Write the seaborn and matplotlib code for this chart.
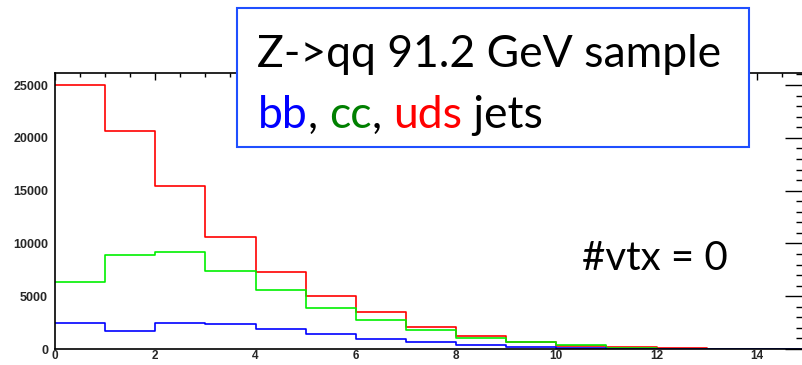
import numpy as np
import pandas as pd
import matplotlib
matplotlib.use("Agg")
import matplotlib.pyplot as plt
from matplotlib.patches import Rectangle
from matplotlib.ticker import MultipleLocator
import seaborn as sns

# Number of reconstructed vertices per jet: bin edges and per-bin counts
bin_edges = list(range(0, 16))
uds_counts = [25000, 20600, 15480, 10650, 7250, 5020, 3460, 2080, 1200, 700, 300, 150, 70, 30, 15]
cc_counts = [6300, 8880, 9230, 7430, 5550, 3920, 2790, 1820, 1000, 620, 340, 110, 30, 10, 5]
bb_counts = [2490, 1750, 2500, 2340, 1880, 1390, 960, 630, 380, 230, 130, 40, 15, 5, 2]

flavours = ["bb", "cc", "uds"]
line_colors = {"bb": "#0000ff", "cc": "#00f000", "uds": "#ff0000"}
text_colors = {"bb": "#0000ff", "cc": "#008000", "uds": "#ff0000"}

centers = [(a + b) / 2 for a, b in zip(bin_edges[:-1], bin_edges[1:])]
df = pd.concat([
    pd.DataFrame({"nvtx": centers, "count": counts, "flavour": name})
    for name, counts in zip(flavours, [bb_counts, cc_counts, uds_counts])
], ignore_index=True)

sns.set_style("white")
plt.rcParams["font.family"] = ["Liberation Sans", "DejaVu Sans"]

W, H = 803, 365
fig = plt.figure(figsize=(W / 100, H / 100), dpi=100)
ax_left, ax_right, ax_bottom, ax_top = 55, 807, 16, 292
ax = fig.add_axes([ax_left / W, ax_bottom / H, (ax_right - ax_left) / W, (ax_top - ax_bottom) / H])

sns.histplot(data=df, x="nvtx", weights="count", hue="flavour", hue_order=flavours,
             palette=line_colors, bins=bin_edges, element="step", fill=False,
             linewidth=1.2, legend=False, ax=ax)

ax.set_xlim(0, 15)
ax.set_ylim(0, 26140)
ax.set_xlabel("")
ax.set_ylabel("")
ax.xaxis.set_major_locator(MultipleLocator(2))
ax.xaxis.set_minor_locator(MultipleLocator(0.5))
ax.yaxis.set_major_locator(MultipleLocator(5000))
ax.yaxis.set_minor_locator(MultipleLocator(1000))
for s in ax.spines.values():
    s.set_visible(True)
    s.set_color("black")
    s.set_linewidth(1.2)
ax.tick_params(axis="both", which="both", direction="in", top=True, right=True,
               color="black", width=1.0)
ax.tick_params(axis="y", which="major", length=16, pad=5, labelsize=9)
ax.tick_params(axis="y", which="minor", length=8)
ax.tick_params(axis="x", which="major", length=5, pad=1, labelsize=8.5)
ax.tick_params(axis="x", which="minor", length=3)
for lab in ax.get_xticklabels() + ax.get_yticklabels():
    lab.set_fontweight("bold")

# Title box drawn over the top of the frame
box_font = ["Lato", "DejaVu Sans"]
fig.add_artist(Rectangle((237 / W, 1 - 147 / H), (749 - 237) / W, (147 - 8) / H,
                         transform=fig.transFigure, facecolor="white",
                         edgecolor="#1f4fff", linewidth=1.5, zorder=5))
fig.text(257 / W, 1 - 67 / H, "Z->qq 91.2 GeV sample", fontsize=32,
         family=box_font, color="black", zorder=6)

# Second line: coloured flavour names placed one after another
pieces = [("bb", text_colors["bb"]), (", ", "black"), ("cc", text_colors["cc"]),
          (", ", "black"), ("uds", text_colors["uds"]), (" jets", "black")]
renderer = fig.canvas.get_renderer()
x_px, y_fig = 258.0, 1 - 128 / H
for txt, col in pieces:
    t = fig.text(x_px / W, y_fig, txt, fontsize=32, family=box_font, color=col, zorder=6)
    bb = t.get_window_extent(renderer=renderer)
    x_px += bb.width

fig.text(582 / W, 1 - 270 / H, "#vtx = 0", fontsize=29, family=box_font, color="black")

fig.savefig("out.png", dpi=100)
